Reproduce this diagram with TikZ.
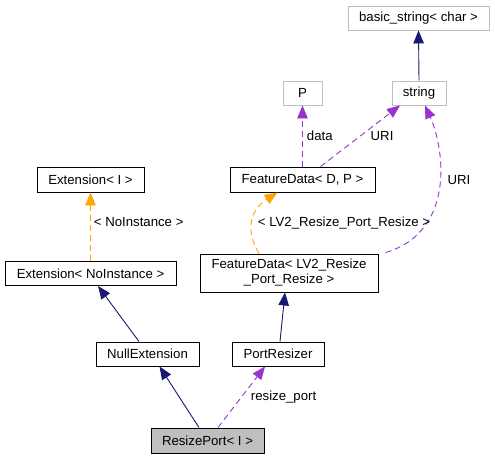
\documentclass[tikz,border=0pt]{standalone}
\usepackage{fontspec}
\setmainfont{Liberation Sans}
\usetikzlibrary{arrows.meta}
\definecolor{navyedge}{HTML}{191970}
\definecolor{purpedge}{HTML}{9A32CD}
\definecolor{orangeedge}{HTML}{FFA500}
\definecolor{extgray}{HTML}{BFBFBF}
\definecolor{selfill}{HTML}{BFBFBF}
\tikzset{
  cls/.style={draw=black, line width=0.9pt, inner sep=0pt, minimum height=24pt, align=center, font=\fontsize{13.2}{15}\selectfont},
  extcls/.style={cls, draw=extgray},
  selcls/.style={cls, fill=selfill},
  inherit/.style={draw=navyedge, line width=0.9pt, -{Triangle[length=13pt,width=10.5pt,fill=navyedge]}},
  usage/.style={draw=purpedge, line width=0.9pt, dash pattern=on 6pt off 4pt, -{Triangle[length=13pt,width=10.5pt,fill=purpedge]}},
  templ/.style={draw=orangeedge, line width=0.9pt, dash pattern=on 6pt off 4pt, -{Triangle[length=13pt,width=10.5pt,fill=orangeedge]}},
  lbl/.style={font=\fontsize{13.2}{15}\selectfont, inner sep=0pt}
}
\begin{document}
\begin{tikzpicture}[x=1pt,y=-1pt]
\useasboundingbox (0,0) rectangle (495,459);
\node[extcls, minimum width=141pt] (bs) at (418.5,18) {basic\_string< char >};
\node[extcls, minimum width=39pt] (P) at (302.5,93) {P};
\node[extcls, minimum width=54pt] (str) at (419,93) {string};
\node[cls, minimum width=145pt, minimum height=25pt] (fdp) at (302.5,179.5) {FeatureData< D, P >};
\node[cls, minimum width=107pt, minimum height=25pt] (exti) at (90.5,179.5) {Extension< I >};
\node[cls, minimum width=171pt] (extn) at (90.5,273.5) {Extension< NoInstance >};
\node[cls, minimum width=178pt, minimum height=38pt] (fdl) at (289,273) {FeatureData< LV2\_Resize\\\_Port\_Resize >};
\node[cls, minimum width=103pt] (null) at (147.5,354) {NullExtension};
\node[cls, minimum width=92pt] (pr) at (278,354) {PortResizer};
\node[selcls, minimum width=113pt, minimum height=25pt] (rp) at (207.5,440.5) {ResizePort< I >};

% edges
\draw[inherit] (str.north) -- (bs.south);
\draw[usage] (fdp.north -| P) -- (P.south) node[lbl, pos=0.5, anchor=west, xshift=4pt] {data};
\draw[usage] (fdp.north) ++(18,0) coordinate (a1) -- ([xshift=-19pt]str.south) node[lbl, pos=0.5, anchor=west, xshift=10pt] {URI};
\draw[usage] (fdl.north east) ++(7,-1) coordinate (c1) .. controls (455,232) and (445,150) .. ([xshift=6pt]str.south);
\node[lbl] (uri2) at (459,180) {URI};
\draw[templ] ([xshift=-30pt]fdl.north) .. controls (245,230) and (250,210) .. ([xshift=-25pt]fdp.south);
\node[lbl] (tl) at (344,223) {< LV2\_Resize\_Port\_Resize >};
\draw[templ] (extn.north) -- (exti.south) node[lbl, pos=0.57, anchor=west, xshift=3pt] {< NoInstance >};
\draw[inherit] ([xshift=-8.5pt]null.north) -- ([xshift=7.5pt]extn.south);
\draw[inherit] ([xshift=2pt]pr.north) -- ([xshift=-4pt]fdl.south);
\draw[inherit] ([xshift=-8.5pt]rp.north) -- ([xshift=12pt]null.south);
\draw[usage] ([xshift=10.5pt]rp.north) -- ([xshift=-13pt]pr.south) node[lbl, pos=0.5, anchor=west, xshift=9pt] {resize\_port};
\end{tikzpicture}
\end{document}
